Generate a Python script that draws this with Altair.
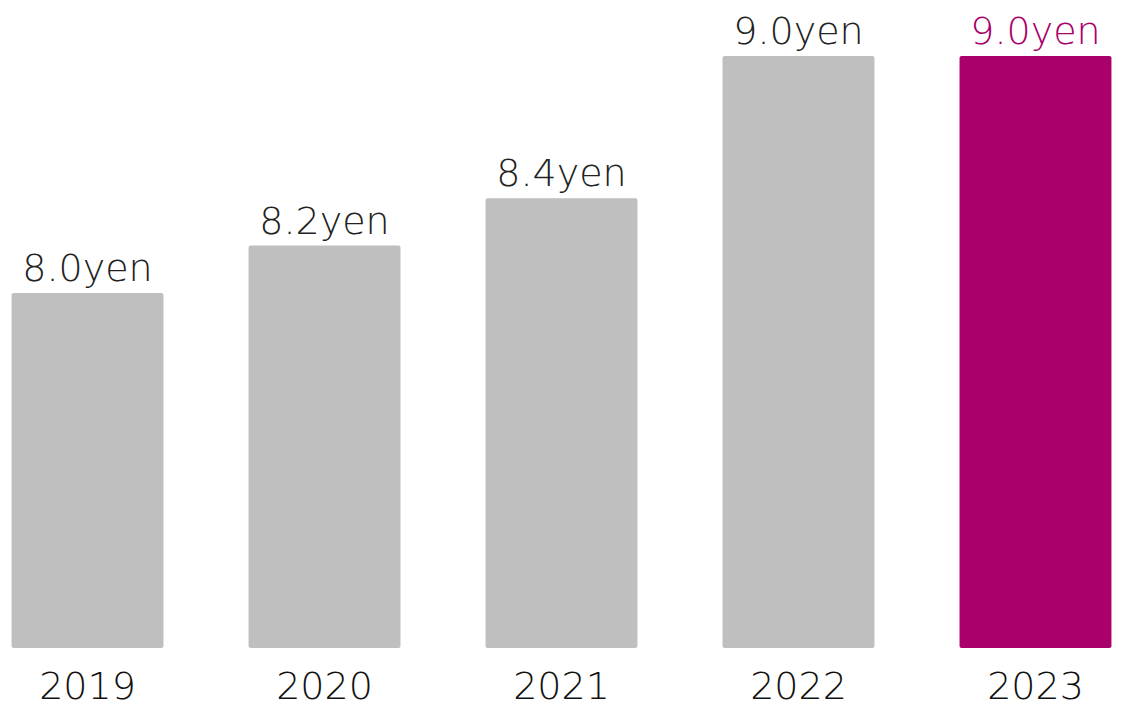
import altair as alt
import pandas as pd

years = ["2019", "2020", "2021", "2022", "2023"]
values = [8.0, 8.2, 8.4, 9.0, 9.0]
labels = ["8.0yen", "8.2yen", "8.4yen", "9.0yen", "9.0yen"]
highlight = ["no", "no", "no", "no", "yes"]
y_floor = 6.502

df = pd.DataFrame({"year": years, "value": values, "label": labels, "hl": highlight})

x = alt.X("year:N", sort=years, title=None,
          scale=alt.Scale(paddingInner=0.359, paddingOuter=0.015),
          axis=alt.Axis(labelAngle=0, domain=False, ticks=False, labelFontSize=38,
                        labelFont="DejaVu Sans", labelFontWeight=300,
                        labelColor="#111111", labelPadding=20))
y = alt.Y("value:Q", title=None, axis=None,
          scale=alt.Scale(domain=[y_floor, 9.169], zero=False, nice=False))
color = alt.Color("hl:N", scale=alt.Scale(domain=["no", "yes"], range=["#bfbfbf", "#a9006b"]),
                  legend=None)

base = alt.Chart(df)
bars = base.mark_bar(cornerRadius=2).encode(x=x, y=y, y2=alt.datum(y_floor), color=color)
text = base.mark_text(baseline="alphabetic", dy=-12, fontSize=38, font="DejaVu Sans",
                      fontWeight=300).encode(
    x=x, y=y, text="label:N",
    color=alt.Color("hl:N", scale=alt.Scale(domain=["no", "yes"], range=["#222222", "#a9006b"]),
                    legend=None))

chart = alt.layer(bars, text).resolve_scale(color="independent").properties(
    width=1107, height=632, padding={"top": 6, "left": 0, "right": 0, "bottom": 0}
).configure(background="white").configure_view(stroke=None)

chart.save("out.html", embed_options={"renderer": "svg", "actions": False})
